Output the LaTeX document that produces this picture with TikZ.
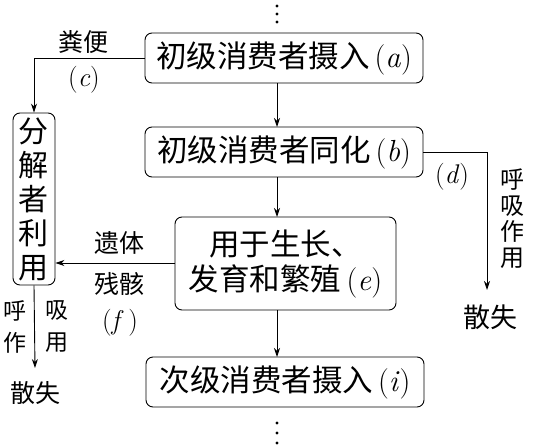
\documentclass[tikz,border=0pt]{standalone}
\usepackage{fontspec}
\setmainfont{Latin Modern Roman}
\newfontfamily\cjk{Noto Sans CJK SC}
\newcommand{\lt}[1]{{\rmfamily(\textit{#1})}}
\usetikzlibrary{arrows.meta}
\begin{document}
\begin{tikzpicture}[x=1pt,y=-1pt,
  box/.style={draw,line width=0.9pt,rounded corners=7pt,inner sep=0pt,font=\cjk\fontsize{30.5}{35}\selectfont},
  lbl/.style={font=\cjk\fontsize{25}{28}\selectfont,inner sep=0pt},
  mlbl/.style={font=\rmfamily\fontsize{27}{29}\selectfont,inner sep=0pt},
  arr/.style={line width=0.9pt,-{Stealth[length=9pt,width=6pt]}},
  ln/.style={line width=0.9pt}]
\useasboundingbox (0,0) rectangle (554,447);
\node[box,minimum width=278pt,minimum height=50pt] (a) at (284,58) {初级消费者摄入\,\lt{a}};
\node[box,minimum width=278pt,minimum height=50pt] (b) at (284,152) {初级消费者同化\,\lt{b}};
\node[box,minimum width=221pt,minimum height=93pt,align=center] (e) at (285.5,263.5) {用于生长、\\发育和繁殖\,\lt{e}};
\node[box,minimum width=278pt,minimum height=50pt] (i) at (285,382) {次级消费者摄入\,\lt{i}};
\node[box,minimum width=42pt,minimum height=172pt,align=center,font=\cjk\fontsize{30}{34}\selectfont] (dec) at (34,199) {分\\解\\者\\利\\用};
% dots
\foreach \yy in {6,14,22} \fill (277,\yy) circle (1.6pt);
\foreach \yy in {423,433,443} \fill (277,\yy) circle (1.6pt);
% main arrows
\coordinate (a1) at (277,83);
\coordinate (b0) at (277,127);
\coordinate (b1) at (277,177);
\coordinate (e0) at (277,217);
\coordinate (e1) at (277,310);
\coordinate (i0) at (277,357);
\draw[arr] (a1) -- (b0);
\draw[arr] (b1) -- (e0);
\draw[arr] (e1) -- (i0);
% feces
\draw[arr] (a.west) -| (dec.north);
\node[lbl] (fb) at (83,42) {粪便};
\node[mlbl] (c) at (84,80) {(\textit{c})};
% remains
\coordinate (eL) at (175,263);
\draw[arr] (eL) -- (eL -| dec.east);
\node[lbl] (yt) at (119,243) {遗体};
\node[lbl] (cg) at (119,284) {残骸};
\node[mlbl] (f) at (120,323) {(\textit{f}\,)};
% decomposer respiration
\node[lbl] (ss1) at (35,393) {散失};
\draw[arr] (dec.south) -- (35,368);
\node[lbl,align=center,font=\cjk\fontsize{23}{32}\selectfont] (hz) at (15,327) {呼\\作};
\node[lbl,align=center,font=\cjk\fontsize{23}{32}\selectfont] (xy) at (57,327) {吸\\用};
% right respiration
\coordinate (rc) at (487,152);
\node[lbl,font=\cjk\fontsize{27}{30}\selectfont] (ss2) at (490,317) {散失};
\draw[ln] (b.east) -- (rc);
\draw[arr] (rc) -- (487,290);
\node[mlbl] (d) at (452,177) {(\textit{d})};
\node[lbl,align=center,font=\cjk\fontsize{24}{26}\selectfont] (hx) at (512,219) {呼\\吸\\作\\用};
\end{tikzpicture}
\end{document}
